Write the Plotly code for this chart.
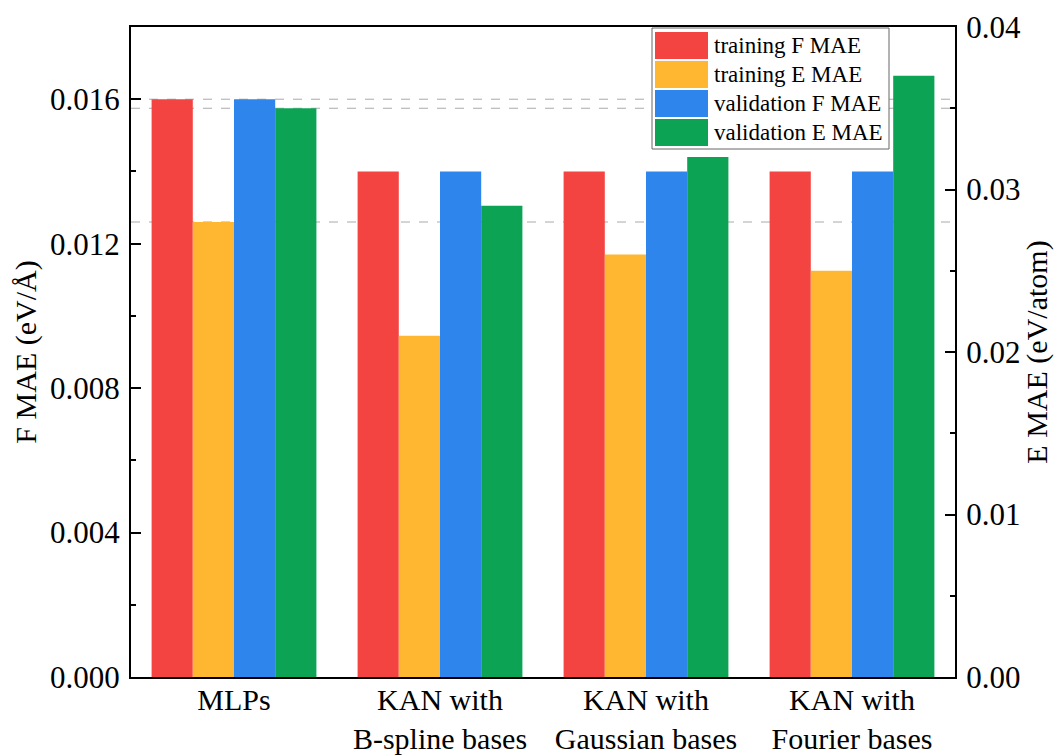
import plotly.graph_objects as go

categories = ["MLPs", "KAN with<br>B-spline bases", "KAN with<br>Gaussian bases", "KAN with<br>Fourier bases"]
train_F = [0.016, 0.014, 0.014, 0.014]
train_E = [0.028, 0.021, 0.026, 0.025]
val_F = [0.016, 0.014, 0.014, 0.014]
val_E = [0.035, 0.029, 0.032, 0.037]

series_names = ["training F MAE", "training E MAE", "validation F MAE", "validation E MAE"]
colors = ["#F44441", "#FFB732", "#2E86EC", "#0CA454"]
values = [train_F, train_E, val_F, val_E]
axes = ["y", "y2", "y", "y2"]

xpos = list(range(len(categories)))
bw = 0.2
FONT = "Liberation Serif, Times New Roman, serif"

OFF = 8  # page body margin offset
W, H = 1054, 748
ML, MR, MT, MB = 131 - OFF, 107, 27 - OFF, 79
PW, PH = W - ML - MR, H - MT - MB


def px_x(px):
    return (px - OFF - ML) / PW


def px_y(py):
    return (H - MB - (py - OFF)) / PH


fig = go.Figure()
for i, (name, col, vals, ax) in enumerate(zip(series_names, colors, values, axes)):
    fig.add_trace(go.Bar(
        x=xpos, y=vals, name=name, yaxis=ax,
        marker=dict(color=col, line=dict(width=0)),
        width=bw, offset=-2 * bw + i * bw, showlegend=False,
    ))

# dashed reference lines at MLP values
refs = [(train_F[0], "y"), (val_E[0], "y2"), (train_E[0], "y2")]
for v, ref in refs:
    fig.add_shape(type="line", xref="paper", x0=0, x1=1, yref=ref, y0=v, y1=v,
                  line=dict(color="#AAAAAA", width=1, dash="dash"), layer="below")

# legend box (drawn in paper coordinates)
fig.add_shape(type="rect", xref="paper", yref="paper",
              x0=px_x(652), x1=px_x(889), y0=px_y(149), y1=px_y(28),
              line=dict(color="#666666", width=1), fillcolor="white", layer="above")
for i, (name, col) in enumerate(zip(series_names, colors)):
    top = 32 + i * 29
    fig.add_shape(type="rect", xref="paper", yref="paper",
                  x0=px_x(655), x1=px_x(708), y0=px_y(top + 27), y1=px_y(top),
                  line=dict(width=0), fillcolor=col, layer="above")
    fig.add_annotation(xref="paper", yref="paper", x=px_x(712), y=px_y(top + 13.5),
                       text=name, showarrow=False, xanchor="left", yanchor="middle",
                       font=dict(family=FONT, size=23, color="black"))

tickfont = dict(family=FONT, size=31, color="black")
xtickfont = dict(family=FONT, size=30, color="black")
titlefont = dict(family=FONT, size=30, color="black")
fig.update_layout(
    width=W, height=H,
    margin=dict(l=ML, r=MR, t=MT, b=MB),
    plot_bgcolor="white", paper_bgcolor="white",
    font=dict(family=FONT, size=30, color="black"),
    barmode="overlay",
    showlegend=False,
    xaxis=dict(
        tickmode="array", tickvals=xpos, ticktext=categories,
        range=[-0.5, len(categories) - 0.5],
        showline=True, linecolor="black", linewidth=2, mirror=True,
        ticks="", showgrid=False, zeroline=False,
        tickfont=xtickfont, automargin=False, ticklabelstandoff=-5,
    ),
    yaxis=dict(
        title=dict(text="F MAE (eV/Å)", font=titlefont, standoff=5),
        range=[0, 0.018], dtick=0.004, tick0=0, tickformat=".3f",
        showline=True, linecolor="black", linewidth=2,
        ticks="inside", ticklen=10, tickwidth=2, tickcolor="black",
        minor=dict(dtick=0.002, ticks="inside", ticklen=5, tickwidth=2, tickcolor="black"),
        showgrid=False, zeroline=False, tickfont=tickfont, automargin=False,
        ticklabelstandoff=3,
    ),
    yaxis2=dict(
        title=dict(text="E MAE (eV/atom)", font=titlefont, standoff=5),
        overlaying="y", side="right",
        range=[0, 0.04], dtick=0.01, tick0=0, tickformat=".2f",
        showline=True, linecolor="black", linewidth=2,
        ticks="inside", ticklen=10, tickwidth=2, tickcolor="black",
        minor=dict(dtick=0.005, ticks="inside", ticklen=5, tickwidth=2, tickcolor="black"),
        showgrid=False, zeroline=False, tickfont=tickfont, automargin=False,
        ticklabelstandoff=3,
    ),
)

fig.write_html("out.html")
